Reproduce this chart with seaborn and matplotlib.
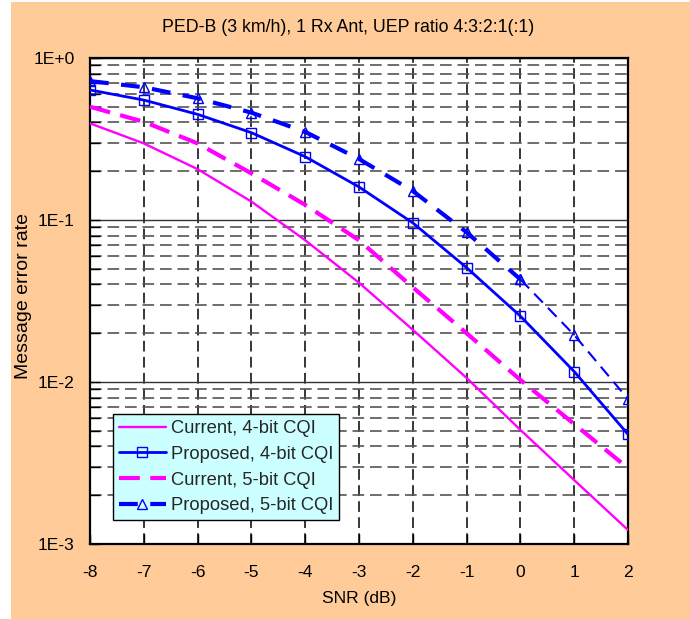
import matplotlib
matplotlib.use("Agg")
import matplotlib.pyplot as plt
from matplotlib.patches import Rectangle
from matplotlib.ticker import LogLocator, FixedLocator, FixedFormatter, NullFormatter
import seaborn as sns
import numpy as np
import pandas as pd

snr_db = [-8, -7, -6, -5, -4, -3, -2, -1, 0, 1, 2]
current_4bit = [0.395, 0.297, 0.206, 0.130, 0.075, 0.041, 0.021, 0.0106, 0.00506, 0.00248, 0.00122]
proposed_4bit = [0.635, 0.55, 0.449, 0.346, 0.246, 0.160, 0.096, 0.0508, 0.0255, 0.0116, 0.00475]
current_5bit = [0.50, 0.404, 0.297, 0.194, 0.124, 0.075, 0.0384, 0.020, 0.0103, 0.0055, 0.00294]
proposed_5bit = [0.72, 0.66, 0.564, 0.46, 0.35, 0.238, 0.151, 0.084, 0.043, 0.0195, 0.00785]
series_labels = ["Current, 4-bit CQI", "Proposed, 4-bit CQI",
                 "Current, 5-bit CQI", "Proposed, 5-bit CQI"]
y_tick_values = [1e-3, 1e-2, 1e-1, 1e0]
y_tick_labels = ["1E-3", "1E-2", "1E-1", "1E+0"]
title_text = "PED-B (3 km/h), 1 Rx Ant, UEP ratio 4:3:2:1(:1)"

sns.set_style("white")
plt.rcParams['font.family'] = ['Liberation Sans', 'DejaVu Sans']
FS = 12.6

W, H = 690, 619
fig = plt.figure(figsize=(W / 100, H / 100), dpi=100, facecolor="white")
fig.patches.append(Rectangle((11 / W, 0), 1 - 11 / W, 1 - 2 / H, transform=fig.transFigure,
                             facecolor="#FFCC99", edgecolor="none", zorder=-10))
ax = fig.add_axes([90 / W, 1 - 544 / H, (628 - 90) / W, (544 - 58) / H])
ax.set_facecolor("white")

df = pd.DataFrame({"snr": snr_db, "c4": current_4bit, "p4": proposed_4bit,
                   "c5": current_5bit, "p5": proposed_5bit})

MAG = "#FF00FF"
BLU = "#0000FF"

sns.lineplot(data=df, x="snr", y="c4", ax=ax, color=MAG, lw=1.7, zorder=5)
h1 = ax.lines[-1]
sns.lineplot(data=df, x="snr", y="p4", ax=ax, color=BLU, lw=2, marker="s", ms=6.8,
             mfc="none", mec=BLU, mew=1.0, zorder=6)
h2 = ax.lines[-1]
sns.lineplot(data=df, x="snr", y="c5", ax=ax, color=MAG, lw=3, zorder=5)
h3 = ax.lines[-1]
h3.set_dashes((5, 2.5))
d_thick = df.iloc[:9]
d_thin = df.iloc[8:]
sns.lineplot(data=d_thick, x="snr", y="p5", ax=ax, color=BLU, lw=3, marker="^", ms=7.8,
             mfc="none", mec=BLU, mew=1.0, zorder=6)
h4 = ax.lines[-1]
h4.set_dashes((4.5, 3))
sns.lineplot(data=d_thin, x="snr", y="p5", ax=ax, color=BLU, lw=1.5, marker="^", ms=7.8,
             mfc="none", mec=BLU, mew=1.0, zorder=6)
ax.lines[-1].set_dashes((6, 3.5))

ax.set_yscale("log")
ax.set_xlim(-8, 2)
ax.set_ylim(1e-3, 1)
ax.xaxis.set_major_locator(FixedLocator(snr_db))
ax.set_xticklabels([str(v) for v in snr_db])
ax.yaxis.set_major_locator(FixedLocator(y_tick_values))
ax.yaxis.set_major_formatter(FixedFormatter(y_tick_labels))
ax.yaxis.set_minor_locator(LogLocator(base=10, subs=np.arange(2, 10), numticks=20))
ax.yaxis.set_minor_formatter(NullFormatter())

ax.grid(which="major", axis="y", color="#333333", ls="-", lw=1, zorder=1)
ax.grid(which="minor", axis="y", color="#555555", ls=(0, (7, 3.5)), lw=1.2, zorder=1)
ax.grid(which="major", axis="x", color="black", ls=(0, (7, 3.5)), lw=1.1, zorder=1)
ax.set_axisbelow(True)

ax.tick_params(axis="both", which="both", direction="in", length=7, width=1, color="black",
               labelsize=FS, labelcolor="black", left=True, bottom=True)
ax.tick_params(axis="y", which="both", pad=11)
ax.tick_params(axis="x", which="both", pad=15)
for s in ax.spines.values():
    s.set_visible(True)
    s.set_color("black")
    s.set_linewidth(1.6)

ax.set_xlabel("SNR (dB)", fontsize=FS, color="black", labelpad=8)
ax.set_ylabel("Message error rate", fontsize=14, color="black")
ax.yaxis.set_label_coords((32 - 90) / 538, (544 - 296) / 486)
fig.text(348.5 / W, 1 - 27.5 / H, title_text, ha="center", va="center", fontsize=12.8,
         color="black")

leg = ax.legend([h1, h2, h3, h4], series_labels, loc="lower left",
                bbox_to_anchor=(0.042, 0.049), borderaxespad=0, fontsize=13.2,
                frameon=True, fancybox=False, shadow=False, facecolor="#CCFFFF",
                edgecolor="black", framealpha=1, handlelength=2.6, handletextpad=0.25,
                labelspacing=0.47, borderpad=0.33, numpoints=1)
leg.get_frame().set_linewidth(1)
leg.set_zorder(10)

fig.savefig("out.png", dpi=100, facecolor=fig.get_facecolor())
